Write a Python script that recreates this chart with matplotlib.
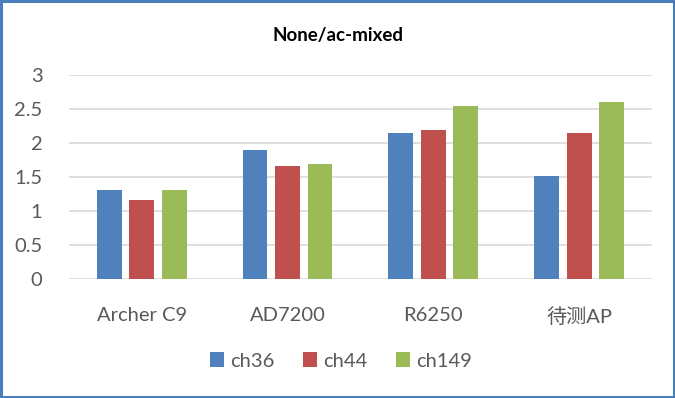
import numpy as np
import matplotlib.pyplot as plt
from matplotlib.patches import Rectangle

# data
categories = ['Archer C9', 'AD7200', 'R6250', '待测AP']
series_names = ['ch36', 'ch44', 'ch149']
ch36 = [1.31, 1.90, 2.15, 1.52]
ch44 = [1.17, 1.67, 2.20, 2.15]
ch149 = [1.31, 1.70, 2.55, 2.61]
colors = ['#4F81BD', '#C0504D', '#9BBB59']
yticks = [0, 0.5, 1, 1.5, 2, 2.5, 3]

plt.rcParams['font.family'] = ['Lato', 'Noto Sans CJK SC', 'DejaVu Sans']

fig = plt.figure(figsize=(6.75, 3.98), dpi=100)
ax = fig.add_axes([0.102, 0.298, 0.864, 0.513])

x = np.arange(len(categories))
width = 0.17
offset = 0.223
for i, (vals, name) in enumerate(zip([ch36, ch44, ch149], series_names)):
    ax.bar(x + (i - 1) * offset, vals, width, color=colors[i], label=name, zorder=3)

ax.set_xlim(-0.5, len(categories) - 0.5)
ax.set_ylim(0, 3)
ax.set_yticks(yticks)
ax.set_yticklabels(['0', '0.5', '1', '1.5', '2', '2.5', '3'])
ax.set_xticks(x)
ax.set_xticklabels(categories)
ax.tick_params(axis='both', length=0, labelsize=14.5, colors='#595959')
ax.tick_params(axis='x', pad=20)
ax.tick_params(axis='y', pad=19)
ax.yaxis.grid(True, color='#D9D9D9', linewidth=1.2, zorder=0)
for s in ax.spines.values():
    s.set_visible(False)

fig.text(0.5, 0.912, 'None/ac-mixed', ha='center', va='center',
         fontsize=13.5, fontweight='bold', color='black')

leg = fig.legend(loc='center', bbox_to_anchor=(0.505, 0.093), ncol=3, frameon=False,
                 fontsize=14.5, handlelength=0.7, handleheight=0.7, handletextpad=0.3,
                 columnspacing=1.4)
for t in leg.get_texts():
    t.set_color('#595959')

# blue frame around the chart
fig.patches.append(Rectangle((0.002, 0.003), 0.996, 0.994, transform=fig.transFigure,
                             fill=False, edgecolor='#4A7EBB', linewidth=2.2))

fig.savefig('out.png', dpi=100)
